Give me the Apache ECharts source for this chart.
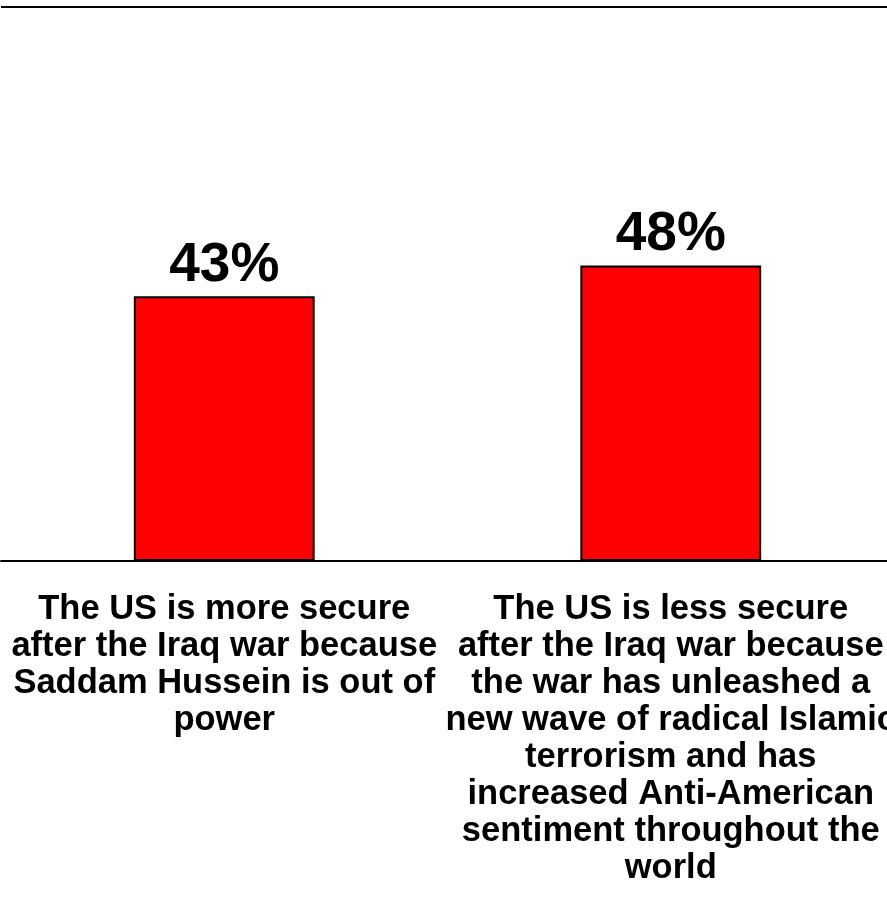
<!DOCTYPE html>
<html>
<head>
<meta charset="utf-8">
<script src="https://cdn.jsdelivr.net/npm/echarts@6/dist/echarts.min.js"></script>
<style>
html,body{margin:0;padding:0;background:#fff;}
#chart{width:887px;height:903px;}
</style>
</head>
<body>
<div id="chart"></div>
<script>
var categories = [
  "The US is more secure\nafter the Iraq war because\nSaddam Hussein is out of\npower",
  "The US is less secure\nafter the Iraq war because\nthe war has unleashed a\nnew wave of radical Islamic\nterrorism and has\nincreased Anti-American\nsentiment throughout the\nworld"
];
var values = [43, 48];

var chart = echarts.init(document.getElementById('chart'));
chart.setOption({
  backgroundColor: '#ffffff',
  animation: false,
  grid: {left: 1, right: -7, top: 7, bottom: 342, containLabel: false, outerBoundsMode: 'none'},
  xAxis: {
    type: 'category',
    data: categories,
    axisLine: {show: true, lineStyle: {color: '#000', width: 2}},
    axisTick: {show: false},
    axisLabel: {
      interval: 0,
      margin: 30,
      color: '#000',
      fontFamily: 'Liberation Sans, Arial, sans-serif',
      fontWeight: 'bold',
      fontSize: 34.5,
      lineHeight: 37,
      align: 'center'
    }
  },
  yAxis: {
    type: 'value',
    min: 0, max: 90, interval: 90,
    axisLine: {show: false},
    axisTick: {show: false},
    axisLabel: {show: false},
    splitLine: {show: true, lineStyle: {color: '#000', width: 2}}
  },
  series: [{
    type: 'bar',
    data: values,
    barWidth: '40.5%',
    itemStyle: {color: '#ff0000', borderColor: '#000', borderWidth: 2},
    label: {
      show: true,
      position: 'top',
      distance: 3,
      formatter: '{c}%',
      color: '#000',
      fontFamily: 'Liberation Sans, Arial, sans-serif',
      fontWeight: 'bold',
      fontSize: 55
    }
  }]
});
</script>
</body>
</html>
